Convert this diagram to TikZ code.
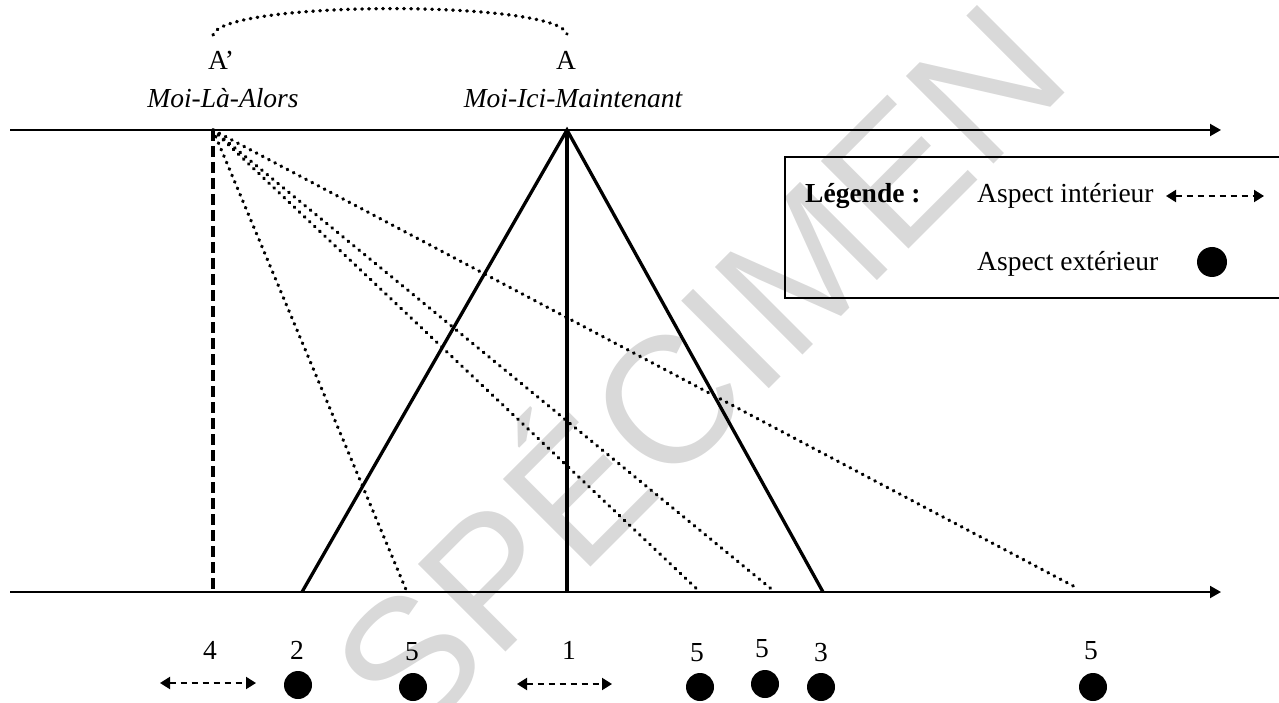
\documentclass[tikz,border=0pt]{standalone}
\usepackage{fontspec}
\setmainfont{Liberation Serif}
\newfontfamily\wmfont{Liberation Sans}
\usetikzlibrary{arrows.meta}
\begin{document}
\begin{tikzpicture}[x=1pt,y=-1pt,
  txt/.style={font=\fontsize{27.5}{33}\selectfont, inner sep=0pt, anchor=base},
  axisln/.style={line width=2pt, -{Triangle[length=11pt,width=12pt]}},
  solidln/.style={line width=3.3pt},
  dotln/.style={line width=3.4pt, line cap=round, dash pattern=on 0.6pt off 6.4pt},
  dashln/.style={line width=4pt, dash pattern=on 11pt off 5pt},
  aspin/.style={line width=2pt, dash pattern=on 6pt off 5pt, {Triangle[length=10pt,width=12pt]}-{Triangle[length=10pt,width=12pt]}},
  aspout/.style={circle, fill=black, minimum size=28pt, inner sep=0pt},
]
\useasboundingbox (0,0) rectangle (1279,703);
% watermark
\node[font=\wmfont\fontsize{180}{180}\selectfont, text=black!15, rotate=45, anchor=base, inner sep=0pt] (wm) at (743,415) {SPÉCIMEN};

% key points
\coordinate (Ap) at (213,130);
\coordinate (A) at (567,130);
\coordinate (t0) at (10,130);
\coordinate (t1) at (1221,130);
\coordinate (b0) at (10,592);
\coordinate (b1) at (1221,592);
\coordinate (Apb) at (213,592);
\coordinate (Ab) at (567,592);
\coordinate (triL) at (302,592);
\coordinate (triR) at (823,592);
\coordinate (d1) at (407,592);
\coordinate (d2) at (700,592);
\coordinate (d3) at (775,592);
\coordinate (d4) at (1077,588);
\coordinate (arcL) at (213,35);
\coordinate (arcR) at (567,34);

% axes
\draw[axisln] (t0) -- (t1);
\draw[axisln] (b0) -- (b1);

% dotted arc
\draw[dotln] (arcL) .. controls (222,0) and (558,0) .. (arcR);

% labels
\node[txt] (lAp) at (221,70) {A’};
\node[txt] (lA) at (566,70) {A};
\node[txt] (mla) at (223,108) {\itshape Moi-Là-Alors};
\node[txt] (mim) at (573,108) {\itshape Moi-Ici-Maintenant};

% triangle and vertical
\draw[solidln, line join=miter] (triL) -- (A) -- (triR);
\draw[solidln] (A) -- (Ab);
\draw[dashln] (Ap) -- (Apb);

% dotted lines
\draw[dotln] (Ap) -- (d1);
\draw[dotln] (Ap) -- (d2);
\draw[dotln] (Ap) -- (d3);
\draw[dotln] (Ap) -- (d4);

% legend
\draw[line width=1.5pt] (1290,157) -- (785,157) -- (785,298) -- (1290,298);
\node[txt, anchor=base west] (leg) at (805,203) {\bfseries Légende :};
\node[txt, anchor=base west] (lin) at (977,203) {Aspect intérieur};
\node[txt, anchor=base west] (lex) at (977,270) {Aspect extérieur};
\coordinate (lia) at (1166,196);
\coordinate (lib) at (1264,196);
\draw[aspin] (lia) -- (lib);
\node[aspout, minimum size=30pt] (ldot) at (1212,262) {};

% bottom markers
\node[txt] (n4) at (210,659) {4};
\coordinate (a4a) at (160,683);
\coordinate (a4b) at (256,683);
\draw[aspin] (a4a) -- (a4b);
\node[txt] (n2) at (297,659) {2};
\node[aspout] (c2) at (298,685) {};
\node[txt] (n5a) at (412,660) {5};
\node[aspout] (c5a) at (413,687) {};
\node[txt] (n1) at (569,659) {1};
\coordinate (a1a) at (517,684);
\coordinate (a1b) at (612,684);
\draw[aspin] (a1a) -- (a1b);
\node[txt] (n5b) at (697,661) {5};
\node[aspout] (c5b) at (700,687) {};
\node[txt] (n5c) at (762,657) {5};
\node[aspout] (c5c) at (765,684) {};
\node[txt] (n3) at (821,661) {3};
\node[aspout] (c3) at (821,687) {};
\node[txt] (n5d) at (1091,659) {5};
\node[aspout] (c5d) at (1093,687) {};
\end{tikzpicture}
\end{document}
